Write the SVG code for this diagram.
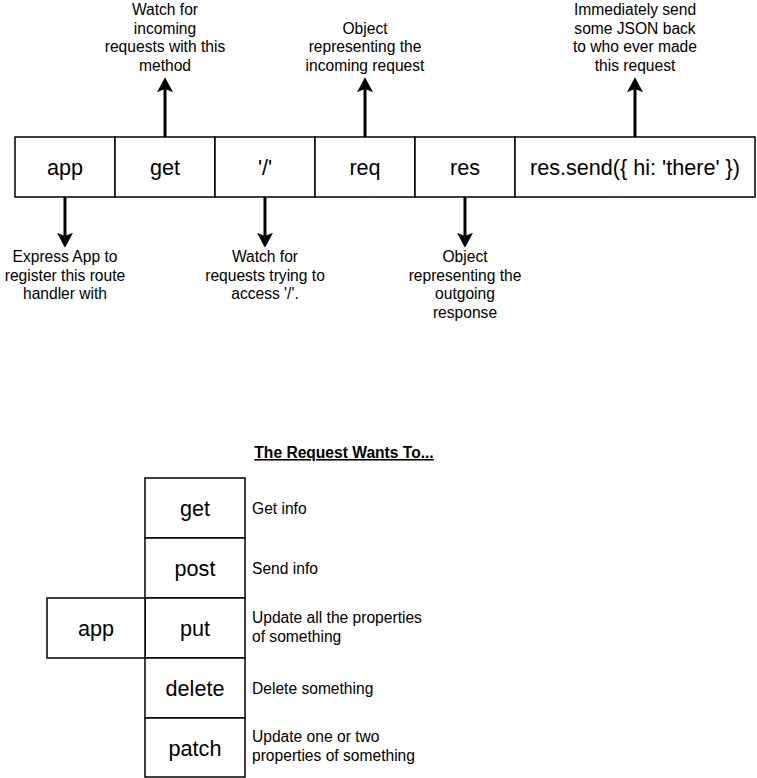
<svg xmlns="http://www.w3.org/2000/svg" width="757" height="778" viewBox="0 0 757 778">
<style>
.box{fill:#fff;stroke:#000;stroke-width:1.5}
.bt{font-family:"Liberation Sans",Arial,Helvetica,sans-serif;font-size:21.6px;fill:#000;text-anchor:middle}
.lb{font-family:"Liberation Sans",Arial,Helvetica,sans-serif;font-size:15.6px;fill:#000;text-anchor:middle}
.ll{font-family:"Liberation Sans",Arial,Helvetica,sans-serif;font-size:15.6px;fill:#000}
.ttl{font-family:"Liberation Sans",Arial,Helvetica,sans-serif;font-size:15.6px;font-weight:bold;fill:#000;text-anchor:middle;text-decoration:underline}
.edge{fill:none;stroke:#000;stroke-width:3}
</style>
<defs>
<marker id="arr" markerUnits="userSpaceOnUse" markerWidth="16" markerHeight="16" viewBox="0 0 15 15" refX="3" refY="7.5" orient="auto">
<path d="M0,0 L14,7.5 L0,15 L3,7.5 Z" fill="#000"/>
</marker>
</defs>
<g id="node-app"><rect class="box" x="15" y="137" width="100" height="60"/><text class="bt" x="65" y="174.7">app</text></g>
<g id="node-get"><rect class="box" x="115" y="137" width="100" height="60"/><text class="bt" x="165" y="174.7">get</text></g>
<g id="node-path"><rect class="box" x="215" y="137" width="100" height="60"/><text class="bt" x="265" y="174.7">'/'</text></g>
<g id="node-req"><rect class="box" x="315" y="137" width="100" height="60"/><text class="bt" x="365" y="174.7">req</text></g>
<g id="node-res"><rect class="box" x="415" y="137" width="100" height="60"/><text class="bt" x="465" y="174.7">res</text></g>
<g id="node-send"><rect class="box" x="515" y="137" width="240" height="60"/><text class="bt" x="635" y="174.7">res.send({ hi: 'there' })</text></g>
<g id="connectors">
<line class="edge" x1="165" y1="137" x2="165" y2="89" marker-end="url(#arr)"/>
<line class="edge" x1="365" y1="137" x2="365" y2="89" marker-end="url(#arr)"/>
<line class="edge" x1="635" y1="137" x2="635" y2="89" marker-end="url(#arr)"/>
<line class="edge" x1="65" y1="197" x2="65" y2="236" marker-end="url(#arr)"/>
<line class="edge" x1="265" y1="197" x2="265" y2="236" marker-end="url(#arr)"/>
<line class="edge" x1="465" y1="197" x2="465" y2="236" marker-end="url(#arr)"/>
</g>
<g id="label-get"><text class="lb" x="165" y="15">Watch for</text><text class="lb" x="165" y="33.7">incoming</text><text class="lb" x="165" y="52.4">requests with this</text><text class="lb" x="165" y="71">method</text></g>
<g id="label-req"><text class="lb" x="365" y="33.7">Object</text><text class="lb" x="365" y="52.4">representing the</text><text class="lb" x="365" y="71">incoming request</text></g>
<g id="label-send"><text class="lb" x="635" y="15">Immediately send</text><text class="lb" x="635" y="33.7">some JSON back</text><text class="lb" x="635" y="52.4">to who ever made</text><text class="lb" x="635" y="71">this request</text></g>
<g id="label-app"><text class="lb" x="65" y="262">Express App to</text><text class="lb" x="65" y="280.7">register this route</text><text class="lb" x="65" y="299.4">handler with</text></g>
<g id="label-path"><text class="lb" x="265" y="262">Watch for</text><text class="lb" x="265" y="280.7">requests trying to</text><text class="lb" x="265" y="299.4">access '/'.</text></g>
<g id="label-res"><text class="lb" x="465" y="262">Object</text><text class="lb" x="465" y="280.7">representing the</text><text class="lb" x="465" y="299.4">outgoing</text><text class="lb" x="465" y="318">response</text></g>
<g id="title"><text class="ttl" x="344" y="458">The Request Wants To...</text></g>
<g id="m-get"><rect class="box" x="145" y="478" width="100" height="60"/><text class="bt" x="195" y="515.7">get</text></g>
<g id="m-post"><rect class="box" x="145" y="538" width="100" height="60"/><text class="bt" x="195" y="575.7">post</text></g>
<g id="m-put"><rect class="box" x="145" y="598" width="100" height="60"/><text class="bt" x="195" y="635.7">put</text></g>
<g id="m-delete"><rect class="box" x="145" y="658" width="100" height="60"/><text class="bt" x="195" y="695.7">delete</text></g>
<g id="m-patch"><rect class="box" x="145" y="718" width="100" height="59"/><text class="bt" x="195" y="755.7">patch</text></g>
<g id="m-app"><rect class="box" x="47" y="598" width="98" height="60"/><text class="bt" x="96" y="635.7">app</text></g>
<g id="d-get"><text class="ll" x="252" y="513.5">Get info</text></g>
<g id="d-post"><text class="ll" x="252" y="573.5">Send info</text></g>
<g id="d-put"><text class="ll" x="252" y="623">Update all the properties</text><text class="ll" x="252" y="641.7">of something</text></g>
<g id="d-delete"><text class="ll" x="252" y="693.5">Delete something</text></g>
<g id="d-patch"><text class="ll" x="252" y="742">Update one or two</text><text class="ll" x="252" y="760.7">properties of something</text></g>
</svg>
